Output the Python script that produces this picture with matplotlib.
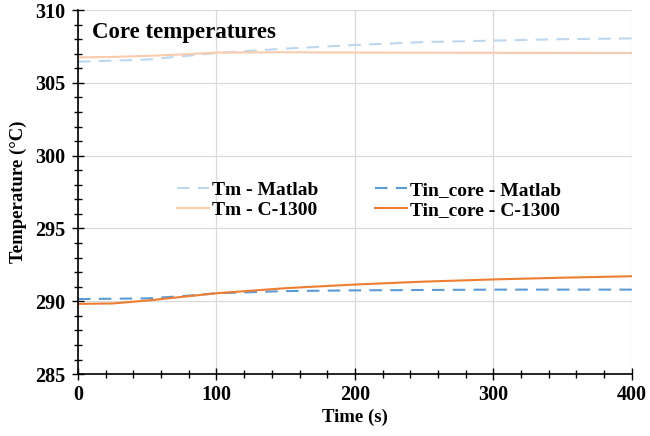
import matplotlib
matplotlib.use('Agg')
import matplotlib.pyplot as plt
from matplotlib.ticker import MultipleLocator

plt.rcParams['font.family'] = ['Liberation Serif', 'DejaVu Serif']
plt.rcParams['font.weight'] = 'bold'

# values
t_tm_matlab = [0, 50, 100, 150, 200, 250, 300, 350, 400]
tm_matlab = [306.45, 306.6, 307.05, 307.35, 307.6, 307.8, 307.9, 308.0, 308.05]

t_tm_c1300 = [0, 25, 50, 75, 100, 150, 200, 300, 400]
tm_c1300 = [306.75, 306.78, 306.85, 306.95, 307.08, 307.1, 307.08, 307.06, 307.05]

t_tin_matlab = [0, 50, 75, 100, 150, 200, 300, 400]
tin_matlab = [290.15, 290.2, 290.35, 290.55, 290.7, 290.75, 290.8, 290.8]

t_tin_c1300 = [0, 25, 50, 75, 100, 150, 200, 250, 300, 350, 400]
tin_c1300 = [289.82, 289.85, 290.05, 290.3, 290.55, 290.9, 291.15, 291.35, 291.5, 291.62, 291.72]

fig = plt.figure(figsize=(6.5, 4.36), dpi=100)
ax = fig.add_axes([0.12, 0.142, 0.852, 0.835])

ax.plot(t_tm_matlab, tm_matlab, color='#bdd7ee', lw=1.5, ls=(0, (6, 4)), label='Tm - Matlab')
ax.plot(t_tm_c1300, tm_c1300, color='#f8cbad', lw=1.5, label='Tm - C-1300')
ax.plot(t_tin_matlab, tin_matlab, color='#5b9bd5', lw=1.5, ls=(0, (6, 4)), label='Tin_core - Matlab')
ax.plot(t_tin_c1300, tin_c1300, color='#ed7d31', lw=1.5, label='Tin_core - C-1300')

ax.set_xlim(0, 400)
ax.set_ylim(285, 310)
ax.xaxis.set_major_locator(MultipleLocator(100))
ax.xaxis.set_minor_locator(MultipleLocator(20))
ax.yaxis.set_major_locator(MultipleLocator(5))
ax.yaxis.set_minor_locator(MultipleLocator(1))
ax.tick_params(which='both', direction='inout', color='black', width=1)
ax.tick_params(which='major', length=8, labelsize=14.5)
ax.tick_params(axis='y', which='major', pad=5)
ax.tick_params(which='minor', length=6)
ax.grid(True, which='major', color='#d9d9d9', lw=0.9)
ax.set_axisbelow(True)
for s in ['top', 'right']:
    ax.spines[s].set_visible(False)
ax.spines['left'].set_linewidth(1.2)
ax.spines['bottom'].set_linewidth(1.2)

ax.set_xlabel('Time (s)', fontsize=13.5, fontweight='bold', labelpad=3)
ax.set_ylabel('Temperature (°C)', fontsize=13.5, fontweight='bold', labelpad=6)
ax.text(0.025, 0.937, 'Core temperatures', transform=ax.transAxes, fontsize=16.5,
        fontweight='bold', va='center')

ax.legend(ncol=2, loc='center', bbox_to_anchor=(0.525, 0.478), frameon=False,
          fontsize=14, handlelength=1.65, handletextpad=0.15, columnspacing=2.9,
          labelspacing=0.1)

fig.savefig('out.png', dpi=100)
